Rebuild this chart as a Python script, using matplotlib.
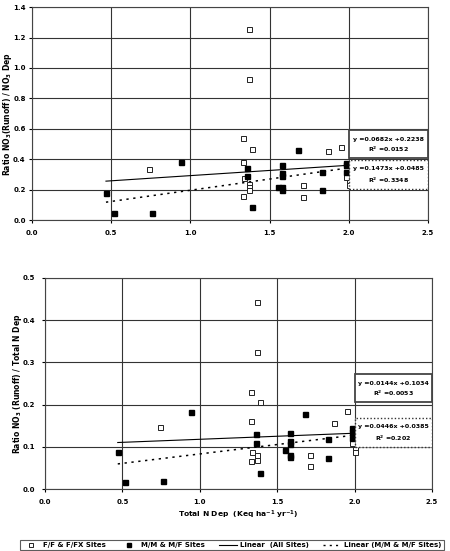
import numpy as np
import matplotlib
matplotlib.use("Agg")
import matplotlib.pyplot as plt
from matplotlib.lines import Line2D
from matplotlib.patches import Rectangle

# top panel: NO3 runoff / NO3 dep
ff_x1 = [0.74, 1.37, 1.37, 1.33, 1.39, 1.87, 1.95, 1.33, 1.34, 1.37, 1.37, 1.37, 1.33, 1.71, 1.71, 1.98, 2.00, 2.00]
ff_y1 = [0.333, 1.258, 0.925, 0.537, 0.469, 0.454, 0.482, 0.379, 0.276, 0.237, 0.219, 0.197, 0.160, 0.228, 0.153, 0.285, 0.252, 0.230]
mm_x1 = [0.467, 0.52, 0.76, 0.94, 1.68, 1.36, 1.36, 1.39, 1.58, 1.58, 1.58, 1.55, 1.58, 1.58, 1.83, 1.83, 1.98, 1.98, 1.98]
mm_y1 = [0.180, 0.044, 0.048, 0.383, 0.462, 0.344, 0.289, 0.088, 0.362, 0.309, 0.290, 0.217, 0.217, 0.200, 0.313, 0.197, 0.377, 0.362, 0.318]
# bottom panel: NO3 runoff / total N dep
ff_x2 = [0.74, 1.37, 1.37, 1.33, 1.39, 1.87, 1.95, 1.33, 1.34, 1.37, 1.37, 1.33, 1.71, 1.71, 1.98, 2.00, 2.00]
ff_y2 = [0.147, 0.442, 0.325, 0.230, 0.205, 0.157, 0.184, 0.162, 0.088, 0.080, 0.069, 0.066, 0.081, 0.055, 0.110, 0.094, 0.088]
mm_x2 = [0.47, 0.52, 0.76, 0.94, 1.68, 1.36, 1.36, 1.39, 1.58, 1.58, 1.58, 1.55, 1.58, 1.58, 1.83, 1.83, 1.98, 1.98, 1.98]
mm_y2 = [0.087, 0.017, 0.020, 0.182, 0.177, 0.130, 0.110, 0.037, 0.133, 0.114, 0.107, 0.092, 0.080, 0.077, 0.118, 0.073, 0.144, 0.136, 0.121]

# fitted trend coefficients (slope, intercept, r2) as printed on chart
fit_all = [(0.0682, 0.2238, "0.0152"), (0.0144, 0.1034, "0.0053")]
fit_mm = [(0.1473, 0.0485, "0.3348"), (0.0446, 0.0385, "0.202")]

plt.rcParams["font.family"] = "DejaVu Sans"
plt.rcParams["font.weight"] = "bold"

fig = plt.figure(figsize=(4.5, 5.51), dpi=100)
ax1 = fig.add_axes([0.0711, 0.6007, 0.880, 0.3863])
ax2 = fig.add_axes([0.100, 0.1125, 0.860, 0.3830])

panels = [
    (ax1, ff_x1, ff_y1, mm_x1, mm_y1, 1.4, 0.2, "Ratio NO$_3$(Runoff) / NO$_3$ Dep",
     (0.408, 0.59), (0.204, 0.394), (-0.063, 0.5), 2.5),
    (ax2, ff_x2, ff_y2, mm_x2, mm_y2, 0.5, 0.1, "Ratio NO$_3$ (Runoff) / Total N Dep",
     (0.206, 0.272), (0.100, 0.168), (-0.072, 0.5), 5),
]

for i, (ax, fx, fy, mx, my, ymax, ystep, ylab, box1, box2, lpos, ypad) in enumerate(panels):
    ax.set_xlim(0, 2.5)
    ax.set_ylim(0, ymax)
    ax.set_xticks(np.arange(0, 2.51, 0.5))
    ax.set_yticks(np.arange(0, ymax + 1e-9, ystep))
    ax.xaxis.set_major_formatter(matplotlib.ticker.FormatStrFormatter("%.1f"))
    ax.yaxis.set_major_formatter(matplotlib.ticker.FormatStrFormatter("%.1f"))
    ax.grid(True, color="#333333", lw=0.8)
    ax.set_axisbelow(True)
    for s in ax.spines.values():
        s.set_color("#444444"); s.set_linewidth(0.8)
    ax.tick_params(axis="x", labelsize=5, length=2.5, pad=5)
    ax.tick_params(axis="y", labelsize=5, length=2, pad=ypad)
    for t in ax.get_xticklabels() + ax.get_yticklabels():
        t.set_fontweight("bold")
    ax.set_ylabel(ylab, fontsize=5.5, fontweight="bold", va="center")
    ax.yaxis.set_label_coords(*lpos)

    ax.plot(fx, fy, "s", ms=3.6, mfc="white", mec="#222222", mew=0.7, ls="none", zorder=3)
    ax.plot(mx, my, "s", ms=3.6, mfc="black", mec="black", ls="none", zorder=3)

    allx = np.array(fx + mx)
    sa, ia, ra = fit_all[i]
    xs = np.array([allx.min(), allx.max()])
    ax.plot(xs, sa * xs + ia, "-", color="black", lw=0.8, zorder=2)
    sm, im, rm = fit_mm[i]
    xm = np.array([min(mx), max(mx)])
    ax.plot(xm, sm * xm + im, ls=(0, (1.5, 3)), color="black", lw=1.1, zorder=2)

    ax.add_patch(Rectangle((2.0, box1[0]), 0.5, box1[1] - box1[0], fill=True, fc="white",
                           ec="#444444", lw=1.3, zorder=4))
    ax.text(2.25, box1[0] + (box1[1] - box1[0]) * 0.68, f"y ={sa:.4f}x +{ia:.4f}",
            ha="center", va="center", fontsize=4.5, fontweight="bold", zorder=5)
    ax.text(2.25, box1[0] + (box1[1] - box1[0]) * 0.3, f"R$^2$ ={ra}",
            ha="center", va="center", fontsize=4.5, fontweight="bold", zorder=5)
    ax.add_patch(Rectangle((2.0, box2[0]), 0.5, box2[1] - box2[0], fill=True, fc="white",
                           ec="#333333", lw=1.0, ls=(0, (1, 1.5)), zorder=4))
    ax.text(2.25, box2[0] + (box2[1] - box2[0]) * 0.7, f"y ={sm:.4f}x +{im:.4f}",
            ha="center", va="center", fontsize=4.5, fontweight="bold", zorder=5)
    ax.text(2.25, box2[0] + (box2[1] - box2[0]) * 0.3, f"R$^2$ ={rm}",
            ha="center", va="center", fontsize=4.5, fontweight="bold", zorder=5)

ax2.set_xlabel("Total N Dep  (Keq ha$^{-1}$ yr$^{-1}$)", fontsize=5.4, fontweight="bold", labelpad=2)

handles = [
    Line2D([], [], marker="s", ls="none", ms=3, mfc="white", mec="black", mew=0.6),
    Line2D([], [], marker="s", ls="none", ms=3, mfc="black", mec="black"),
    Line2D([], [], ls="-", color="black", lw=0.8),
    Line2D([], [], ls=(0, (1.5, 3)), color="black", lw=1.0),
]
labels = ["F/F & F/FX Sites", "M/M & M/F Sites", "Linear  (All Sites)", "Linear (M/M & M/F Sites)"]
leg = fig.legend(handles, labels, loc="center", ncol=4, fontsize=5,
                 bbox_to_anchor=(17 / 450, 1 - 551 / 551, 430 / 450, 12 / 551), mode="expand",
                 frameon=True, fancybox=False, edgecolor="#333333", handlelength=2.5,
                 borderpad=0.3, handletextpad=0.5, columnspacing=1.0)
leg.get_frame().set_linewidth(0.8)
for t in leg.get_texts():
    t.set_fontweight("bold")

fig.savefig("out.png", dpi=100)
